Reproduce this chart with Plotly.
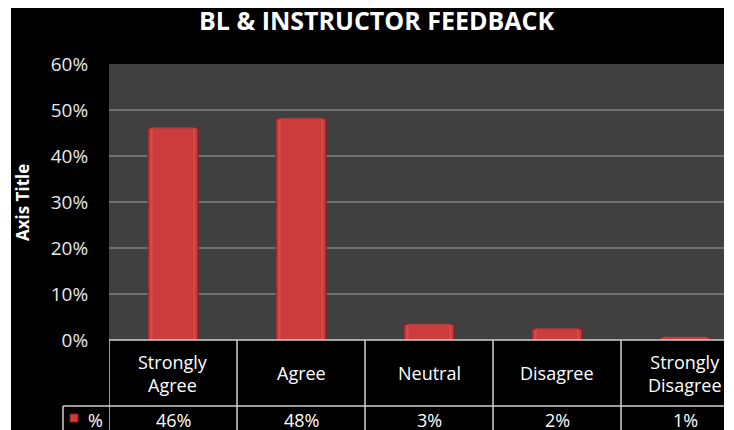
import plotly.graph_objects as go

categories = ["Strongly<br>Agree", "Agree", "Neutral", "Disagree", "Strongly<br>Disagree"]
values = [0.461, 0.481, 0.034, 0.024, 0.006]
value_labels = ["46%", "48%", "3%", "2%", "1%"]
series_name = "%"
y_ticks = [0, 0.1, 0.2, 0.3, 0.4, 0.5, 0.6]
y_tick_labels = ["0%", "10%", "20%", "30%", "40%", "50%", "60%"]

OFF = 8  # page body margin
W, H = 716, 422
L, R, T = 101, 0, 56
B = H - (340 - OFF)
PW = W - L - R
PH = H - T - B

def px_x(p):
    return (p - OFF - L) / PW

def px_y(p):
    return (H - B - (p - OFF)) / PH

FONT = "Open Sans"
x_positions = list(range(len(categories)))

fig = go.Figure()
fig.add_trace(go.Bar(
    x=x_positions, y=values, width=0.39,
    marker=dict(color="#cc3c3c", line=dict(color="#8a2020", width=1.2)),
    name=series_name, showlegend=False,
))
fig.add_trace(go.Bar(
    x=x_positions, y=values, width=0.33,
    marker=dict(color="rgba(0,0,0,0)", line=dict(color="rgba(255,140,140,0.35)", width=1)),
    showlegend=False, hoverinfo="skip",
))

shapes = []
line_col = "#d0d0d0"
shapes.append(dict(type="line", xref="paper", yref="paper", x0=0, x1=1, y0=px_y(340), y1=px_y(340),
                   line=dict(color=line_col, width=1.5)))
shapes.append(dict(type="line", xref="paper", yref="paper", x0=px_x(63), x1=1, y0=px_y(406), y1=px_y(406),
                   line=dict(color=line_col, width=1.5)))
for i in range(len(categories)):
    xb = i - 0.5
    shapes.append(dict(type="line", xref="x", yref="paper", x0=xb, x1=xb, y0=px_y(340), y1=px_y(440),
                       line=dict(color=line_col, width=1.5)))
shapes.append(dict(type="line", xref="paper", yref="paper", x0=px_x(63), x1=px_x(63), y0=px_y(406), y1=px_y(440),
                   line=dict(color=line_col, width=1.5)))
shapes.append(dict(type="rect", xref="paper", yref="paper", x0=px_x(70), x1=px_x(78), y0=px_y(422), y1=px_y(414),
                   fillcolor="#cc3c3c", line=dict(color="#8a2020", width=1)))
shapes.append(dict(type="rect", xref="paper", yref="paper", x0=px_x(8), x1=px_x(11), y0=px_y(440), y1=px_y(0),
                   fillcolor="white", line=dict(width=0), layer="above"))

annotations = []
for i, c in enumerate(categories):
    annotations.append(dict(x=i, y=px_y(373), xref="x", yref="paper", text=c, showarrow=False,
                            font=dict(family=FONT, size=18, color="white"), xanchor="center", yanchor="middle"))
    annotations.append(dict(x=i, y=px_y(420), xref="x", yref="paper", text=value_labels[i], showarrow=False,
                            font=dict(family=FONT, size=18, color="white"), xanchor="center", yanchor="middle"))
annotations.append(dict(x=px_x(95), y=px_y(420), xref="paper", yref="paper", text=series_name, showarrow=False,
                        font=dict(family=FONT, size=18, color="white"), xanchor="center", yanchor="middle"))
annotations.append(dict(x=px_x(376), y=px_y(20), xref="paper", yref="paper", text="<b>BL & INSTRUCTOR FEEDBACK</b>",
                        showarrow=False, font=dict(family=FONT, size=25, color="white"), xanchor="center", yanchor="middle"))
annotations.append(dict(x=px_x(22), y=px_y(203), xref="paper", yref="paper", text="<b>Axis Title</b>", textangle=-90,
                        showarrow=False, font=dict(family=FONT, size=17, color="white"), xanchor="center", yanchor="middle"))

fig.update_layout(
    width=W, height=H,
    margin=dict(l=L, r=R, t=T, b=B, pad=0),
    paper_bgcolor="black", plot_bgcolor="#404040",
    barmode="overlay",
    shapes=shapes, annotations=annotations,
    xaxis=dict(range=[-0.5, -0.5 + PW / 128], showticklabels=False, showgrid=False, zeroline=False, fixedrange=True),
    yaxis=dict(range=[0, 0.6], tickvals=y_ticks, ticktext=y_tick_labels, showgrid=True, gridcolor="#707070", gridwidth=1.5,
               zeroline=False, ticks="outside", ticklen=16, tickcolor="black",
               tickfont=dict(family=FONT, size=19, color="#e8e8e8")),
    showlegend=False,
)

fig.write_html("out.html")
